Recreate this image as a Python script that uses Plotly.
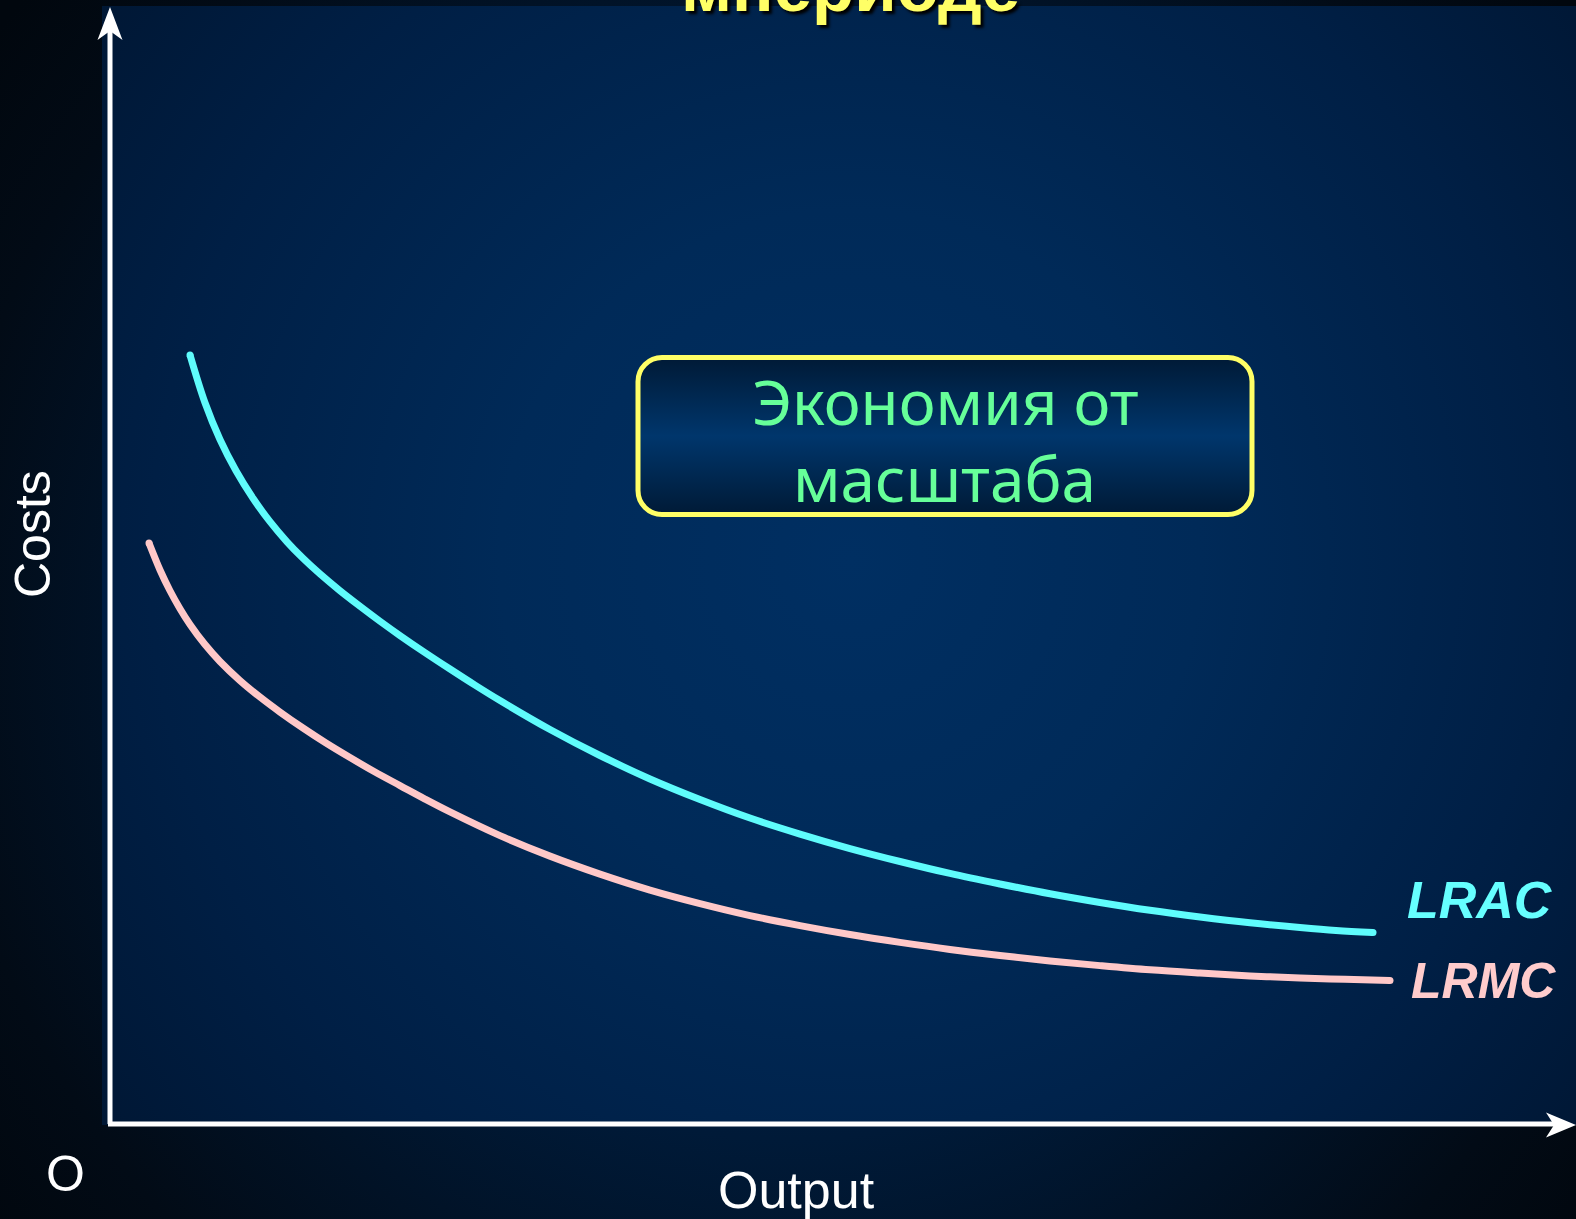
import base64
import plotly.graph_objects as go

# ---------------- data ----------------
lrac_x = [5.457, 6.480, 7.503, 8.595, 9.755, 10.914, 12.074, 13.165, 14.325, 15.689, 17.053, 18.417,
          19.782, 21.487, 23.192, 24.898, 26.603, 30.014, 33.424, 36.835, 40.246, 43.656, 47.067,
          50.477, 53.888, 57.299, 60.709, 64.120, 67.531, 70.941, 74.352, 77.763, 81.173, 83.629,
          86.153]
lrac_y = [68.85, 64.57, 61.28, 58.48, 56.02, 53.92, 52.12, 50.64, 49.24, 47.74, 46.35, 45.01,
          43.73, 42.20, 40.73, 39.29, 37.91, 35.32, 32.99, 30.89, 29.05, 27.39, 25.96,
          24.66, 23.50, 22.43, 21.49, 20.61, 19.83, 19.13, 18.53, 18.01, 17.59, 17.33,
          17.14]
lrmc_x = [2.660, 3.411, 4.093, 4.775, 5.457, 6.480, 7.503, 8.868, 10.232, 11.596, 13.165, 14.734,
          16.371, 18.076, 19.782, 21.487, 23.192, 26.603, 30.014, 33.424, 36.835, 40.246, 43.656,
          47.067, 50.477, 53.888, 57.299, 60.709, 64.120, 67.531, 70.941, 74.352, 77.763, 81.173,
          84.243, 87.312]
lrmc_y = [52.01, 49.60, 47.74, 46.13, 44.72, 42.92, 41.41, 39.70, 38.22, 36.88, 35.45, 34.11,
          32.81, 31.51, 30.30, 29.09, 27.94, 25.82, 23.98, 22.37, 20.94, 19.73, 18.66,
          17.76, 16.96, 16.26, 15.63, 15.09, 14.60, 14.18, 13.80, 13.51, 13.26, 13.08,
          12.95, 12.85]
curve_names = ["LRAC", "LRMC"]
box_lines = ["Экономия от", "масштаба"]
title_tail = "мпериоде"
x_label = "Output"
y_label = "Costs"
origin_label = "O"

# ---------------- geometry ----------------
W, H = 1576, 1219
ML, MR, MT, MB = 110, 0, 7, 95
PW, PH = W - ML - MR, H - MT - MB


def px(x):
    return (x - ML) / PW


def py(y):
    return (H - MB - y) / PH


# ---------------- background (gradients) ----------------
svg = f'''<svg xmlns="http://www.w3.org/2000/svg" width="{W}" height="{H}" viewBox="0 0 {W} {H}">
<defs>
<radialGradient id="g0" gradientUnits="userSpaceOnUse" cx="790" cy="640" r="1000">
<stop offset="0" stop-color="#002a55"/><stop offset="0.5" stop-color="#001a38"/>
<stop offset="0.85" stop-color="#020b16"/><stop offset="1" stop-color="#01070e"/>
</radialGradient>
<radialGradient id="g1" gradientUnits="userSpaceOnUse" cx="850" cy="560" r="1000">
<stop offset="0" stop-color="#002f62"/><stop offset="0.35" stop-color="#002a58"/>
<stop offset="0.7" stop-color="#001f45"/><stop offset="1" stop-color="#001530"/>
</radialGradient>
<linearGradient id="g2" x1="0" y1="0" x2="0" y2="1">
<stop offset="0" stop-color="#001a36"/><stop offset="0.5" stop-color="#00366c"/><stop offset="1" stop-color="#001a36"/>
</linearGradient>
</defs>
<rect width="{W}" height="{H}" fill="url(#g0)"/>
<rect x="102" y="6" width="{W-102}" height="1119" fill="url(#g1)"/>
<rect x="638" y="357.5" width="614" height="157" rx="24" ry="24" fill="url(#g2)" stroke="#ffff66" stroke-width="5"/>
</svg>'''
src = "data:image/svg+xml;base64," + base64.b64encode(svg.encode("utf-8")).decode("ascii")

fig = go.Figure()
colors = {"LRAC": "#5ffcfc", "LRMC": "#ffc8c8"}
for name, xs, ys in [("LRAC", lrac_x, lrac_y), ("LRMC", lrmc_x, lrmc_y)]:
    fig.add_trace(go.Scatter(
        x=xs, y=ys, mode="lines", name=name,
        line=dict(color=colors[name], width=7, shape="spline", smoothing=1.0),
        hoverinfo="skip",
    ))
    fig.add_trace(go.Scatter(
        x=[xs[0], xs[-1]], y=[ys[0], ys[-1]], mode="markers",
        marker=dict(color=colors[name], size=7), hoverinfo="skip",
    ))

shapes = []
AXW = 5
shapes.append(dict(type="line", xref="paper", yref="paper", x0=0, y0=0, x1=0, y1=py(30),
                   line=dict(color="white", width=AXW)))
shapes.append(dict(type="line", xref="paper", yref="paper", x0=px(108), y0=0, x1=px(1555), y1=0,
                   line=dict(color="white", width=AXW)))


def poly(pts):
    return "M " + " L ".join(f"{px(a):.5f},{py(b):.5f}" for a, b in pts) + " Z"


shapes.append(dict(type="path", xref="paper", yref="paper",
                   path=poly([(110, 7), (122.5, 40), (110, 31), (97.5, 40)]),
                   fillcolor="white", line=dict(width=0)))
shapes.append(dict(type="path", xref="paper", yref="paper",
                   path=poly([(1576, 1125), (1546, 1137.5), (1554, 1125), (1546, 1112.5)]),
                   fillcolor="white", line=dict(width=0)))

ARIAL = "Liberation Sans, Arial, sans-serif"
ann = []
ann.append(dict(text=title_tail, x=px(850), y=py(-12), xref="paper", yref="paper",
                showarrow=False, xanchor="center", yanchor="middle",
                font=dict(family=ARIAL, size=69, color="#ffff66", weight="bold",
                          shadow="3px 3px 3px #000000")))
ann.append(dict(text=box_lines[0], x=px(945), y=py(401), xref="paper", yref="paper",
                showarrow=False, xanchor="center", yanchor="middle",
                font=dict(family="Noto Sans, sans-serif", size=62, color="#66ff99")))
ann.append(dict(text=box_lines[1], x=px(944), y=py(478), xref="paper", yref="paper",
                showarrow=False, xanchor="center", yanchor="middle",
                font=dict(family="Noto Sans, sans-serif", size=62, color="#66ff99")))
ann.append(dict(text=f"<b><i>{curve_names[0]}</i></b>", x=px(1480), y=py(900), xref="paper", yref="paper",
                showarrow=False, xanchor="center", yanchor="middle",
                font=dict(family=ARIAL, size=52, color="#66ffff")))
ann.append(dict(text=f"<b><i>{curve_names[1]}</i></b>", x=px(1483), y=py(981), xref="paper", yref="paper",
                showarrow=False, xanchor="center", yanchor="middle",
                font=dict(family=ARIAL, size=50, color="#ffcccc")))
ann.append(dict(text=y_label, x=px(33), y=py(534), xref="paper", yref="paper", textangle=-90,
                showarrow=False, xanchor="center", yanchor="middle",
                font=dict(family=ARIAL, size=50, color="white")))
ann.append(dict(text=origin_label, x=px(65), y=py(1174), xref="paper", yref="paper",
                showarrow=False, xanchor="center", yanchor="middle",
                font=dict(family=ARIAL, size=50, color="white")))
ann.append(dict(text=x_label, x=px(796), y=py(1190), xref="paper", yref="paper",
                showarrow=False, xanchor="center", yanchor="middle",
                font=dict(family=ARIAL, size=52, color="white")))

fig.update_layout(
    width=W, height=H, autosize=False,
    margin=dict(l=ML, r=MR, t=MT, b=MB, pad=0),
    paper_bgcolor="#01070e", plot_bgcolor="rgba(0,0,0,0)",
    showlegend=False,
    xaxis=dict(range=[0, 100], visible=False, fixedrange=True),
    yaxis=dict(range=[0, 100], visible=False, fixedrange=True),
    shapes=shapes, annotations=ann,
    images=[dict(source=src, xref="paper", yref="paper", x=-ML / PW, y=1 + MT / PH,
                 sizex=W / PW, sizey=H / PH, xanchor="left", yanchor="top",
                 sizing="stretch", layer="below")],
)

fig.write_html("out.html", config={"displayModeBar": False},
               post_script="document.body.style.margin='0';document.body.style.padding='0';"
                           "document.body.style.background='#01070e';")
